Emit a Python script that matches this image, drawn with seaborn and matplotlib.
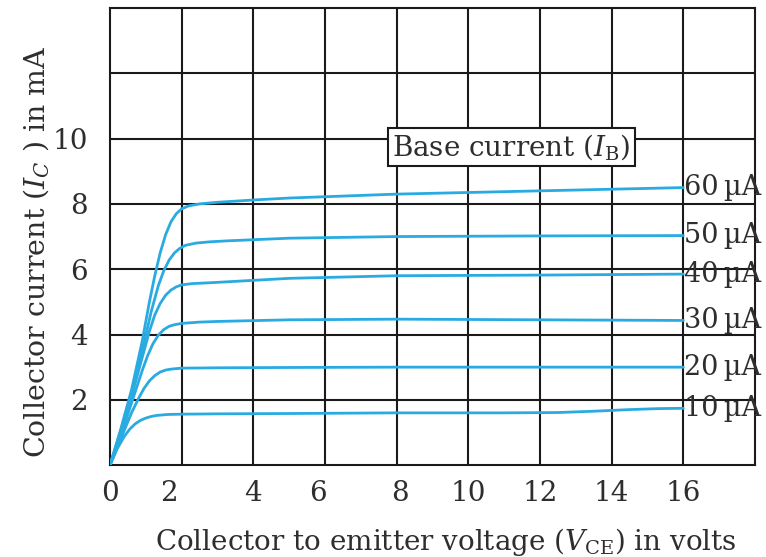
import matplotlib
matplotlib.use("Agg")
import matplotlib.pyplot as plt
import seaborn as sns
import pandas as pd

# Output characteristics of a transistor
ib_labels = ["10\u2009\u00b5A", "20\u2009\u00b5A", "30\u2009\u00b5A",
             "40\u2009\u00b5A", "50\u2009\u00b5A", "60\u2009\u00b5A"]

vce_10 = [0, 0.2, 0.4, 0.55, 0.7, 0.85, 1.0, 1.15, 1.3, 1.6, 2, 3, 5, 8, 11, 12.5, 13.5, 14.5, 15.3, 16]
ic_10 = [0, 0.5, 0.88, 1.1, 1.26, 1.37, 1.44, 1.49, 1.52, 1.55, 1.56, 1.57, 1.58, 1.6, 1.6, 1.61, 1.65, 1.7, 1.73, 1.74]

vce_20 = [0, 0.3, 0.6, 0.8, 0.95, 1.1, 1.25, 1.4, 1.55, 1.7, 2, 3, 5, 8, 12, 16]
ic_20 = [0, 0.8, 1.6, 2.05, 2.35, 2.58, 2.74, 2.85, 2.91, 2.94, 2.97, 2.98, 2.99, 3.0, 3.0, 3.0]

vce_30 = [0, 0.3, 0.6, 0.9, 1.05, 1.2, 1.35, 1.5, 1.65, 1.8, 2, 2.5, 3, 5, 8, 12, 16]
ic_30 = [0, 0.9, 1.9, 2.9, 3.35, 3.72, 3.98, 4.15, 4.25, 4.3, 4.34, 4.38, 4.4, 4.45, 4.47, 4.45, 4.43]

vce_40 = [0, 0.3, 0.6, 0.9, 1.1, 1.25, 1.4, 1.55, 1.7, 1.85, 2, 2.3, 2.7, 3.2, 5, 8, 12, 16]
ic_40 = [0, 1.0, 2.1, 3.3, 4.1, 4.6, 4.95, 5.2, 5.36, 5.46, 5.52, 5.56, 5.58, 5.61, 5.72, 5.8, 5.82, 5.85]

vce_50 = [0, 0.3, 0.6, 0.9, 1.15, 1.35, 1.5, 1.65, 1.8, 1.95, 2.1, 2.4, 2.8, 3.3, 5, 8, 12, 16]
ic_50 = [0, 1.05, 2.2, 3.5, 4.7, 5.5, 5.95, 6.28, 6.5, 6.64, 6.73, 6.8, 6.84, 6.87, 6.95, 7.0, 7.02, 7.03]

vce_60 = [0, 0.3, 0.6, 0.9, 1.1, 1.25, 1.4, 1.55, 1.7, 1.85, 2, 2.2, 2.5, 3, 4, 5, 8, 12, 16]
ic_60 = [0, 1.1, 2.3, 3.8, 5.0, 5.8, 6.5, 7.05, 7.45, 7.7, 7.85, 7.94, 8.0, 8.05, 8.12, 8.18, 8.3, 8.4, 8.5]

x_tick_pos = [0, 1.65, 4, 5.8, 8.1, 10, 12, 14, 16]
x_tick_labels = ["0", "2", "4", "6", "8", "10", "12", "14", "16"]
y_ticks = [2, 4, 6, 8, 10]

LINE = "#29abe2"
INK = "#2e2e2e"
GRID = "#1a1a1a"

sns.set_theme(style="white")
plt.rcParams["font.family"] = ["DejaVu Serif"]
plt.rcParams["mathtext.fontset"] = "dejavuserif"

series_x = [vce_10, vce_20, vce_30, vce_40, vce_50, vce_60]
series_y = [ic_10, ic_20, ic_30, ic_40, ic_50, ic_60]

frames = []
for lab, xs, ys in zip(ib_labels, series_x, series_y):
    frames.append(pd.DataFrame({"vce": xs, "ic": ys, "ib": lab}))
df = pd.concat(frames, ignore_index=True)

fig = plt.figure(figsize=(7.66, 5.57), dpi=100)
ax = fig.add_axes([0.1436, 0.165, 0.842, 0.8206])

sns.lineplot(data=df, x="vce", y="ic", hue="ib", palette=[LINE] * 6,
             sort=False, estimator=None, legend=False, lw=2, ax=ax, zorder=3)

ax.set_xlim(0, 18)
ax.set_ylim(0, 14)

# square grid every 2 units
for gx in range(2, 18, 2):
    ax.axvline(gx, color=GRID, lw=1.5, zorder=1)
for gy in range(2, 14, 2):
    ax.axhline(gy, color=GRID, lw=1.5, zorder=1)

ax.set_xticks(x_tick_pos)
ax.set_xticklabels(x_tick_labels)
ax.set_yticks(y_ticks)
ax.set_yticklabels([str(v) for v in y_ticks])
ax.tick_params(length=0, labelsize=20, colors=INK)
ax.tick_params(axis="x", pad=11)
ax.tick_params(axis="y", pad=16)

for sp in ax.spines.values():
    sp.set_color(GRID)
    sp.set_linewidth(1.5)

for lab, xs, ys in zip(ib_labels, series_x, series_y):
    ax.text(xs[-1] + 0.02, ys[-1], lab, ha="left", va="center", fontsize=19.5,
            color=INK, zorder=4, clip_on=False)

ax.text(11.2, 9.75, "Base current ($I_\\mathrm{B}$)", ha="center", va="center",
        fontsize=20, color=INK, zorder=5,
        bbox=dict(boxstyle="square,pad=0.15", fc="white", ec=GRID, lw=1.5))

ax.set_xlabel("Collector to emitter voltage ($V_\\mathrm{CE}$) in volts",
              fontsize=20, color=INK)
ax.xaxis.set_label_coords(0.52, -0.133)
ax.set_ylabel("Collector current ($I_C$ ) in mA", fontsize=20.5, color=INK)
ax.yaxis.set_label_coords(-0.091, 0.466)

fig.savefig("out.png", dpi=100)
